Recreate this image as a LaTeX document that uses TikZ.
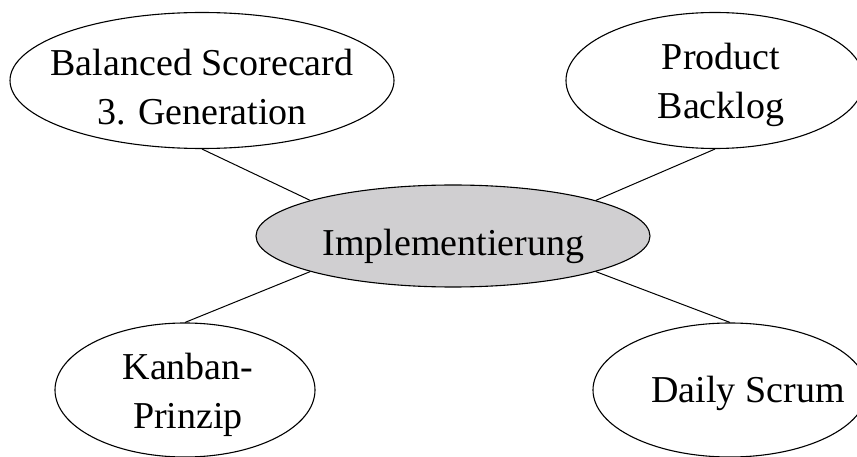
\documentclass[tikz,border=0pt]{standalone}
\usepackage{fontspec}
\setmainfont{Liberation Serif}
\usetikzlibrary{shapes.geometric}
\definecolor{hubgray}{RGB}{208,207,209}
\tikzset{
  bubble/.style={ellipse, draw=black, line width=1.1pt, inner sep=0pt, fill=white},
  hub/.style={bubble, fill=hubgray},
  caption/.style={font=\fontsize{38}{49}\selectfont, align=center, inner sep=0pt},
  link/.style={draw=black, line width=1pt}
}
\begin{document}
\begin{tikzpicture}[x=1pt, y=-1pt]
  \useasboundingbox (0,0) rectangle (857,457);
  % ellipses
  \node[bubble, minimum width=384pt, minimum height=136pt] (bsc) at (202,80.5) {};
  \node[bubble, minimum width=298pt, minimum height=136pt] (pb)  at (715,80.5) {};
  \node[hub,    minimum width=394pt, minimum height=102pt] (impl) at (453,236) {};
  \node[bubble, minimum width=260pt, minimum height=134pt] (kp)  at (185,390) {};
  \node[bubble, minimum width=274pt, minimum height=134pt] (ds)  at (730,390) {};
  % connectors
  \draw[link] (bsc.south) -- (impl.166);
  \draw[link] (pb.south)  -- (impl.14);
  \draw[link] (kp.north)  -- (impl.194);
  \draw[link] (ds.north)  -- (impl.346);
  % labels
  \node[caption] (bsc-t) at (202,87) {Balanced Scorecard\\3. Generation};
  \node[caption] (pb-t)  at (721,85) {Product\\Backlog};
  \node[caption, anchor=base] (impl-t) at (453.5,256) {Implementierung};
  \node[caption] (kp-t)  at (188,395) {Kanban-\\Prinzip};
  \node[caption, anchor=base] (ds-t) at (748,402) {Daily Scrum};
\end{tikzpicture}
\end{document}
